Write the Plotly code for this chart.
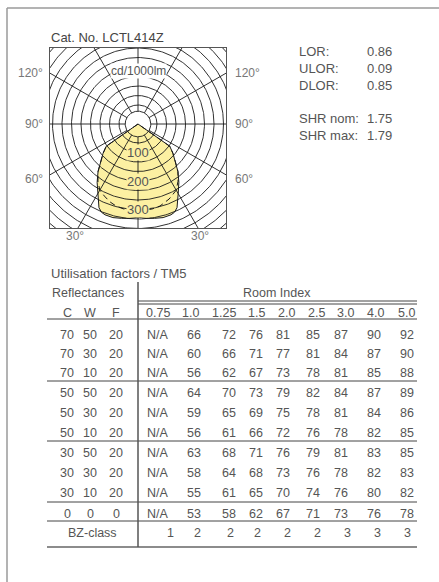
import numpy as np
import plotly.graph_objects as go

W, H = 439, 582
FONT = "Liberation Sans"

# ---------------- data ----------------
cat_no = "Cat. No. LCTL414Z"
ratios_labels = ["LOR:", "ULOR:", "DLOR:", "", "SHR nom:", "SHR max:"]
ratios_values = ["0.86", "0.09", "0.85", "", "1.75", "1.79"]

# luminous intensity distribution (cd/1000lm), gamma from nadir in degrees
gamma = [0, 5, 10, 15, 20, 22.5, 25, 30, 35, 40, 45, 50, 55, 56, 60, 90]
i_c0 = [327, 332, 336, 340, 339, 335, 324, 282, 250, 218, 185, 160, 136, 0, 0, 0]
i_c90 = [305, 304, 302, 298, 290, 285, 279, 268, 245, 218, 185, 160, 136, 0, 0, 0]

ring_step = 100 / 3
ring_labels = [100, 200, 300]
spoke_angles = [0, 30, 60, 90, 120, 150, 180, 210, 240, 270, 300, 330]

reflectances = [(70, 50, 20), (70, 30, 20), (70, 10, 20),
                (50, 50, 20), (50, 30, 20), (50, 10, 20),
                (30, 50, 20), (30, 30, 20), (30, 10, 20),
                (0, 0, 0)]
room_index = ["0.75", "1.0", "1.25", "1.5", "2.0", "2.5", "3.0", "4.0", "5.0"]
uf = [
    ["N/A", 66, 72, 76, 81, 85, 87, 90, 92],
    ["N/A", 60, 66, 71, 77, 81, 84, 87, 90],
    ["N/A", 56, 62, 67, 73, 78, 81, 85, 88],
    ["N/A", 64, 70, 73, 79, 82, 84, 87, 89],
    ["N/A", 59, 65, 69, 75, 78, 81, 84, 86],
    ["N/A", 56, 61, 66, 72, 76, 78, 82, 85],
    ["N/A", 63, 68, 71, 76, 79, 81, 83, 85],
    ["N/A", 58, 64, 68, 73, 76, 78, 82, 83],
    ["N/A", 55, 61, 65, 70, 74, 76, 80, 82],
    ["N/A", 53, 58, 62, 67, 71, 73, 76, 78],
]
bz_class = [1, 2, 2, 2, 2, 2, 3, 3, 3]

# ---------------- layout helpers ----------------
def px(x):
    return x / W

def py(y):
    return 1 - y / H

BOX_L, BOX_R, BOX_T, BOX_B = 50, 226, 48, 228
CX, CY = 138, 124
K = 0.285  # px per cd
FILL = "#FCF0A2"
LINE = "#1a1a1a"

fig = go.Figure()

def polar_xy(g_deg, inten):
    g = np.radians(np.asarray(g_deg, dtype=float))
    r = np.asarray(inten, dtype=float)
    return r * np.sin(g), -r * np.cos(g)

def sym_curve(g_list, i_list):
    g = list(-np.array(g_list[::-1])) + list(g_list[1:])
    i = list(i_list[::-1]) + list(i_list[1:])
    return polar_xy(g, i)

fx, fy = sym_curve(gamma, i_c0)
fig.add_trace(go.Scatter(x=fx, y=fy, mode="lines", fill="toself",
                         fillcolor=FILL, line=dict(width=0),
                         hoverinfo="skip", showlegend=False))

R_IN = 45
t = np.linspace(0, 2 * np.pi, 361)
for k in range(2, 17):
    r = k * ring_step
    fig.add_trace(go.Scatter(x=r * np.cos(t), y=r * np.sin(t), mode="lines",
                             line=dict(color=LINE, width=0.9),
                             hoverinfo="skip", showlegend=False))
fig.add_trace(go.Scatter(x=R_IN * np.cos(t), y=R_IN * np.sin(t), mode="lines",
                         line=dict(color=LINE, width=0.9),
                         hoverinfo="skip", showlegend=False))
for a in spoke_angles:
    sx, sy = polar_xy([a, a], [R_IN, 700])
    fig.add_trace(go.Scatter(x=sx, y=sy, mode="lines",
                             line=dict(color=LINE, width=0.9),
                             hoverinfo="skip", showlegend=False))

dx_, dy_ = sym_curve(gamma, i_c90)
fig.add_trace(go.Scatter(x=dx_, y=dy_, mode="lines",
                         line=dict(color=LINE, width=1, dash="6px,4px"),
                         hoverinfo="skip", showlegend=False))
fig.add_trace(go.Scatter(x=fx, y=fy, mode="lines",
                         line=dict(color=LINE, width=1),
                         hoverinfo="skip", showlegend=False))

fig.update_xaxes(domain=[px(BOX_L), px(BOX_R)],
                 range=[(BOX_L - CX) / K, (BOX_R - CX) / K],
                 showgrid=False, zeroline=False, showticklabels=False, ticks="",
                 showline=True, mirror=True, linecolor="#555", linewidth=1,
                 fixedrange=True)
fig.update_yaxes(domain=[py(BOX_B), py(BOX_T)],
                 range=[-(BOX_B - CY) / K, (CY - BOX_T) / K],
                 showgrid=False, zeroline=False, showticklabels=False, ticks="",
                 showline=True, mirror=True, linecolor="#555", linewidth=1,
                 fixedrange=True)

ann = []

def text(x, y, s, anchor="center", font=None):
    ann.append(dict(x=px(x), y=py(y), xref="paper", yref="paper", text=s,
                    showarrow=False, xanchor=anchor, yanchor="middle",
                    font=font))

for v in ring_labels:
    ann.append(dict(x=0, y=-v, xref="x", yref="y", text=str(v), showarrow=False,
                    xanchor="center", yanchor="middle",
                    font=dict(family=FONT, size=13, color="#555"),
                    bgcolor=FILL, borderpad=0))
ann.append(dict(x=0, y=(CY - 71) / K, xref="x", yref="y", text="cd/1000lm",
                showarrow=False, xanchor="center", yanchor="middle",
                font=dict(family=FONT, size=12, color="#555"),
                bgcolor="white", borderpad=0))

angle_font = dict(family=FONT, size=12, color="#777")
for lab, yy in [("120°", 73), ("90°", 124), ("60°", 179)]:
    text(45, yy, lab, "right", angle_font)
    text(233, yy, lab, "left", angle_font)
for xx in (75, 200):
    text(xx, 236, "30°", "center", angle_font)

text(49, 38, cat_no, "left", dict(family=FONT, size=13, color="#444"))

rat_font = dict(family=FONT, size=13, color="#555")
rat_y = [51, 68, 85, 102, 119, 135]
for lab, val, yy in zip(ratios_labels, ratios_values, rat_y):
    if not lab:
        continue
    text(297, yy, lab, "left", rat_font)
    text(365, yy, val, "left", rat_font)

tfont = dict(family=FONT, size=12.5, color="#555")
text(49, 273, "Utilisation factors / TM5", "left", dict(family=FONT, size=13, color="#555"))
text(88, 293, "Reflectances", "center", tfont)
text(277, 293, "Room Index", "center", tfont)

refl_x = [67, 90, 116]
for lab, xx in zip(["C", "W", "F"], refl_x):
    text(xx, 313, lab, "center", tfont)
head_x = [158, 190, 224, 256, 286, 316, 345, 375, 406]
for lab, xx in zip(room_index, head_x):
    text(xx, 313, lab, "center", tfont)

row_y = [335, 354, 373, 393, 413, 433, 453, 473, 493, 514]
col_x = [157.5, 193.5, 229, 256, 282.5, 312.5, 341, 374, 407]
for (c, w_, f), vals, yy in zip(reflectances, uf, row_y):
    for v, xx in zip((c, w_, f), refl_x):
        text(xx, yy, str(v), "center", tfont)
    for v, xx in zip(vals, col_x):
        text(xx, yy, str(v), "center", tfont)
text(92, 533, "BZ-class", "center", tfont)
bz_x = [170, 197, 230, 257, 287, 317, 347, 377, 407]
for v, xx in zip(bz_class, bz_x):
    text(xx, 533, str(v), "center", tfont)

shapes = []
def hline(x0, x1, y, color="#444", width=1):
    shapes.append(dict(type="line", xref="paper", yref="paper",
                       x0=px(x0), x1=px(x1), y0=py(y), y1=py(y),
                       line=dict(color=color, width=width)))

def vline(x, y0, y1, color="#444", width=1):
    shapes.append(dict(type="line", xref="paper", yref="paper",
                       x0=px(x), x1=px(x), y0=py(y0), y1=py(y1),
                       line=dict(color=color, width=width)))

hline(7, W + 5, 8, color="#9a9a9a", width=1.5)
vline(7, 8, H + 5, color="#9a9a9a", width=1.5)

hline(138, 417, 301)
hline(138, 417, 304)
for yy in [319, 381, 441, 502, 521]:
    hline(47, 417, yy)
hline(47, 417, 547, color="#666", width=1.5)
vline(138, 282, 547, color="#555", width=1.5)

fig.update_layout(width=W, height=H, margin=dict(l=0, r=0, t=0, b=0),
                  paper_bgcolor="white", plot_bgcolor="white",
                  annotations=ann, shapes=shapes, showlegend=False,
                  hovermode=False)

fig.write_html("out.html",
               config={"displayModeBar": False, "staticPlot": True},
               post_script="document.body.style.margin='0px';"
                           "document.body.style.overflow='hidden';")
